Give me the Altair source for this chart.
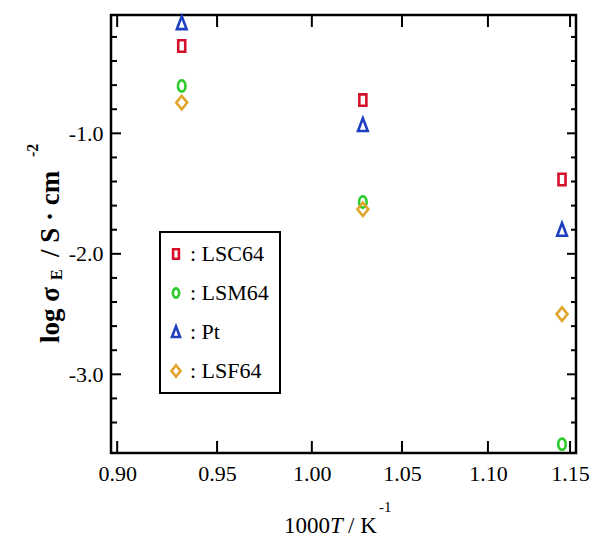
import altair as alt
import pandas as pd

# ---- data ----
inv_temp = [0.932, 1.028, 1.145]          # 1000/T (K^-1)
series_names = ["LSC64", "LSM64", "Pt", "LSF64"]
lsc64 = [-0.275, -0.724, -1.383]
lsm64 = [-0.607, -1.570, -3.580]
pt = [-0.085, -0.930, -1.800]
lsf64 = [-0.745, -1.630, -2.500]
x_tick_values = [0.90, 0.95, 1.00, 1.05, 1.10, 1.15]
y_major_ticks = [-1.0, -2.0, -3.0]
y_minor_ticks = [-0.2, -0.4, -0.6, -0.8, -1.2, -1.4, -1.6, -1.8,
                 -2.2, -2.4, -2.6, -2.8, -3.2, -3.4]

colors = ["#d4102a", "#2ccc2c", "#1e3fc0", "#e2a52c"]
SERIF = "Liberation Serif"

# marker shapes (slightly tall, as in the reference)
sq = "M-0.52,-0.85L0.52,-0.85L0.52,0.85L-0.52,0.85Z"
ci = "M0.56,0A0.56,0.83,0,1,1,-0.56,0A0.56,0.83,0,1,1,0.56,0Z"
tr = "M0,-1.0L0.72,0.9L-0.72,0.9Z"
di = "M0,-1L0.81,0L0,1L-0.81,0Z"

rows = []
for name, vals in zip(series_names, [lsc64, lsm64, pt, lsf64]):
    for xv, yv in zip(inv_temp, vals):
        rows.append({"x": xv, "y": yv, "series": name})
df = pd.DataFrame(rows)

W, H = 465, 438
xscale = alt.Scale(type="log", domain=[0.897, 1.1537], nice=False)
yscale = alt.Scale(domain=[-3.653, -0.018], nice=False, zero=False)

leg = dict(title=None, orient="none", legendX=49, legendY=217,
           labelExpr="': ' + datum.label", labelFont=SERIF, labelFontSize=22,
           labelColor="black", labelOffset=3, padding=11, rowPadding=17,
           symbolOffset=-6, symbolSize=125, symbolStrokeWidth=2,
           strokeColor="black", fillColor="white")

points = alt.Chart(df).mark_point(filled=False, size=182, opacity=1).encode(
    x=alt.X("x:Q", scale=xscale,
            axis=alt.Axis(values=x_tick_values, format=".2f", title=None,
                          ticks=False, tickSize=0, domain=False, grid=False,
                          labelFont=SERIF, labelFontSize=22, labelColor="black",
                          labelPadding=10, labelFlush=False)),
    y=alt.Y("y:Q", scale=yscale,
            axis=alt.Axis(values=y_major_ticks,
                          labelExpr="'-' + format(abs(datum.value), '.1f')",
                          title=None, ticks=False, tickSize=0, domain=False,
                          grid=False, labelFont=SERIF, labelFontSize=22,
                          labelColor="black", labelPadding=8)),
    color=alt.Color("series:N", scale=alt.Scale(domain=series_names, range=colors),
                    legend=alt.Legend(**leg)),
    shape=alt.Shape("series:N", scale=alt.Scale(domain=series_names,
                                                 range=[sq, ci, tr, di]),
                    legend=alt.Legend(**leg)),
    strokeWidth=alt.StrokeWidth("series:N",
                                scale=alt.Scale(domain=series_names,
                                                range=[2.6, 2.6, 1.7, 1.4]),
                                legend=None),
)

xt = pd.DataFrame({"x": x_tick_values})
ymaj = pd.DataFrame({"y": y_major_ticks})
ymin = pd.DataFrame({"y": y_minor_ticks})

def xrule(y0, y1):
    return alt.Chart(xt).mark_rule(color="black", strokeWidth=2).encode(
        x=alt.X("x:Q", scale=xscale), y=alt.value(y0), y2=alt.value(y1))

def yrule(d, x0, x1):
    return alt.Chart(d).mark_rule(color="black", strokeWidth=2).encode(
        y=alt.Y("y:Q", scale=yscale), x=alt.value(x0), x2=alt.value(x1))

ticks = [
    xrule(H, H - 12), xrule(0, 12),
    yrule(ymaj, 0, 10), yrule(ymin, 0, 6),
    yrule(ymaj, W, W - 9), yrule(ymin, W, W - 5),
]

one = pd.DataFrame({"k": [0]})

def txt(s, x, y, size, weight="normal", style="normal", angle=0):
    return alt.Chart(one).mark_text(
        text=s, font=SERIF, fontSize=size, fontWeight=weight, fontStyle=style,
        angle=angle, align="left", baseline="alphabetic", color="black"
    ).encode(x=alt.value(x), y=alt.value(y))

titles = [
    # x title: 1000T / K^-1
    txt("1000", 173, 518, 23),
    txt("T", 219, 518, 23, style="italic"),
    txt("/ K", 237, 518, 23),
    txt("-1", 268, 497, 15),
    # y title: log σ_E / S·cm^-2
    txt("log σ", -52, 328, 27, weight="bold", angle=270),
    txt("E", -49, 265, 16, weight="bold", angle=270),
    txt("/ S · cm", -52, 242, 27, weight="bold", angle=270),
    txt("-2", -73, 142, 16, weight="bold", angle=270),
]

chart = alt.layer(points, *ticks, *titles).properties(
    width=W, height=H, autosize="none",
    padding={"left": 111, "top": 15, "right": 40, "bottom": 90},
    background="white",
).configure(font=SERIF).configure_view(
    stroke="black", strokeWidth=2.5
).configure_axis(labelFont=SERIF, labelFontSize=22, labelColor="black").configure_legend(
    strokeWidth=2, labelFont=SERIF, labelFontSize=22, labelColor="black")

chart.save("out.html", embed_options={"renderer": "svg", "actions": False})
